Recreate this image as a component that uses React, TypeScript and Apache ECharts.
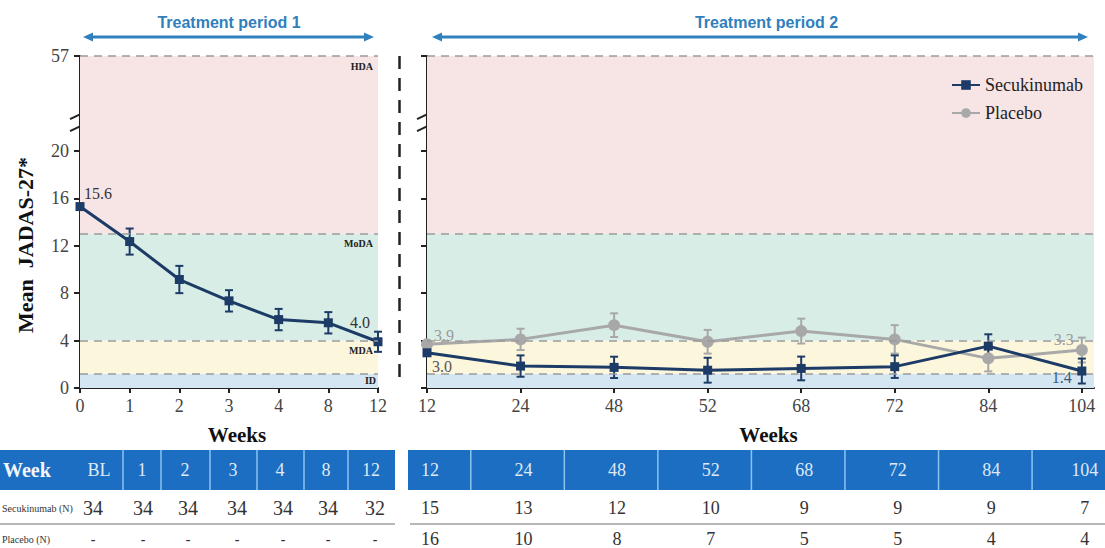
import React, { useEffect, useRef } from 'react';
import * as echarts from 'echarts';

// ---------- data ----------
const leftWeeks = ['0', '1', '2', '3', '4', '8', '12'];
const rightWeeks = ['12', '24', '48', '52', '68', '72', '84', '104'];

const secLeftMean = [15.3, 12.35, 9.15, 7.35, 5.77, 5.5, 3.9];
const secLeftErr = [0, 1.1, 1.15, 0.9, 0.9, 0.9, 0.85];

const secRightMean = [2.97, 1.85, 1.74, 1.5, 1.65, 1.8, 3.53, 1.43];
const secRightErr = [0, 0.9, 0.9, 1.05, 1.0, 0.95, 1.0, 1.05];

const pboRightMean = [3.7, 4.1, 5.3, 3.9, 4.8, 4.1, 2.5, 3.2];
const pboRightErr = [0, 0.9, 1.0, 1.0, 1.05, 1.2, 1.1, 1.05];

const yTickValues = [0, 4, 8, 12, 16, 20, 28];
const yTopValue = 28;
const yTopLabel = '57';
const yBreakValue = 22.6;

const bandEdges = [0, 1.2, 4, 13, 28];
const bandNames = ['ID', 'MDA', 'MoDA', 'HDA'];
const bandColors = ['#d5e6f3', '#fcf6dc', '#d8ede6', '#f7e4e4'];
const dashLevels = [1.2, 4, 13, 28];

const tableLeftHeader = ['BL', '1', '2', '3', '4', '8', '12'];
const tableLeftSec = ['34', '34', '34', '34', '34', '34', '32'];
const tableLeftPbo = ['-', '-', '-', '-', '-', '-', '-'];
const tableRightHeader = ['12', '24', '48', '52', '68', '72', '84', '104'];
const tableRightSec = ['15', '13', '12', '10', '9', '9', '9', '7'];
const tableRightPbo = ['16', '10', '8', '7', '5', '5', '4', '4'];

// ---------- styles ----------
const SERIF = '"Liberation Serif", "Times New Roman", serif';
const SANS = '"Liberation Sans", Arial, sans-serif';
const NAVY = '#1c3b66';
const GRAY = '#a8a8a8';
const BLUE = '#2f80bd';
const HEAD = '#1b6ec2';
const AXIS = '#222';

function bandAreas(withLabels: boolean) {
  return {
    silent: true,
    data: bandNames.map((n, i) => [
      {
        yAxis: bandEdges[i],
        itemStyle: { color: bandColors[i] },
        label: withLabels
          ? {
              show: true,
              formatter: n,
              position: 'insideTopRight',
              distance: i === 0 ? 2 : 5,
              color: '#222',
              fontFamily: SERIF,
              fontWeight: 'bold',
              fontSize: 10,
            }
          : { show: false },
      },
      { yAxis: bandEdges[i + 1] },
    ]),
  };
}

function bandLines() {
  return {
    silent: true,
    symbol: 'none',
    label: { show: false },
    lineStyle: { color: '#9a9a9a', width: 1.5, type: [8, 6] },
    data: dashLevels.map((v) => ({ yAxis: v })),
  };
}

function errSeries(xi: number, means: number[], errs: number[], color: string) {
  return {
    type: 'custom',
    xAxisIndex: xi,
    yAxisIndex: xi,
    silent: true,
    z: 3,
    renderItem: (params: any, api: any) => {
      const x = api.value(0);
      const p1 = api.coord([x, api.value(2)]);
      const p2 = api.coord([x, api.value(1)]);
      const w = 4;
      const style = { stroke: color, lineWidth: 2 };
      return {
        type: 'group',
        children: [
          { type: 'line', shape: { x1: p1[0], y1: p1[1], x2: p2[0], y2: p2[1] }, style },
          { type: 'line', shape: { x1: p1[0] - w, y1: p1[1], x2: p1[0] + w, y2: p1[1] }, style },
          { type: 'line', shape: { x1: p2[0] - w, y1: p2[1], x2: p2[0] + w, y2: p2[1] }, style },
        ],
      };
    },
    data: means
      .map((m, i) => [i, m - errs[i], m + errs[i], errs[i]])
      .filter((d) => d[3] > 0),
  };
}

function lbl(text: string, color: string, offset: number[]) {
  return {
    show: true,
    formatter: text,
    position: 'inside',
    offset,
    color,
    fontFamily: SERIF,
    fontSize: 16,
  };
}

export default function App() {
  const ref = useRef<HTMLDivElement>(null);

  useEffect(() => {
    if (!ref.current) return;
    const chart = echarts.init(ref.current, null, { renderer: 'svg' });

    const yAxisCommon = {
      type: 'value',
      min: 0,
      max: yTopValue,
      interval: 4,
      splitLine: { show: false },
      axisLine: { show: true, lineStyle: { color: AXIS, width: 2 } },
      axisTick: { show: true, customValues: yTickValues, length: 6, lineStyle: { color: AXIS, width: 2 } },
    };

    const xLabelStyle = { color: '#444', fontFamily: SERIF, fontSize: 18, margin: 9 };
    const xNameStyle = {
      color: '#111',
      fontFamily: SERIF,
      fontWeight: 'bold',
      fontSize: 21,
      padding: [0, 0, 0, 16],
    };

    const option: any = {
      animation: false,
      backgroundColor: '#fff',
      grid: [
        { left: 80, top: 56, width: 298, height: 332 },
        { left: 427, top: 56, width: 667, height: 332 },
      ],
      legend: {
        data: ['Secukinumab', 'Placebo'],
        orient: 'vertical',
        left: 946,
        top: 71,
        itemWidth: 28,
        itemHeight: 12,
        itemGap: 10,
        textStyle: { fontFamily: SERIF, fontSize: 18, color: '#222' },
      },
      xAxis: [
        {
          type: 'category',
          gridIndex: 0,
          data: leftWeeks,
          boundaryGap: false,
          axisLine: { lineStyle: { color: AXIS, width: 2 } },
          axisTick: { alignWithLabel: true, length: 5, lineStyle: { color: AXIS, width: 2 } },
          axisLabel: xLabelStyle,
          name: 'Weeks',
          nameLocation: 'middle',
          nameGap: 36,
          nameTextStyle: xNameStyle,
        },
        {
          type: 'value',
          gridIndex: 1,
          min: 0,
          max: 7.13,
          interval: 1,
          splitLine: { show: false },
          axisLine: { lineStyle: { color: AXIS, width: 2 } },
          axisTick: { customValues: [0, 1, 2, 3, 4, 5, 6, 7], length: 5, lineStyle: { color: AXIS, width: 2 } },
          axisLabel: {
            ...xLabelStyle,
            customValues: [0, 1, 2, 3, 4, 5, 6, 7],
            formatter: (v: number) => rightWeeks[Math.round(v)] ?? '',
          },
          name: 'Weeks',
          nameLocation: 'middle',
          nameGap: 36,
          nameTextStyle: xNameStyle,
        },
      ],
      yAxis: [
        {
          ...yAxisCommon,
          gridIndex: 0,
          axisLabel: {
            customValues: yTickValues,
            formatter: (v: number) => (v === yTopValue ? yTopLabel : String(v)),
            color: '#444',
            fontFamily: SERIF,
            fontSize: 18,
            margin: 11,
          },
        },
        {
          ...yAxisCommon,
          gridIndex: 1,
          axisLabel: { show: false, customValues: yTickValues },
        },
      ],
      series: [
        {
          name: 'Secukinumab',
          type: 'line',
          xAxisIndex: 0,
          yAxisIndex: 0,
          z: 4,
          symbol: 'rect',
          symbolSize: 9,
          color: NAVY,
          lineStyle: { color: NAVY, width: 3 },
          itemStyle: { color: NAVY },
          data: secLeftMean.map((v, i) => {
            if (i === 0) return { value: v, label: lbl('15.6', '#333', [18, -13]) };
            if (i === secLeftMean.length - 1) return { value: v, label: lbl('4.0', '#333', [-18, -19]) };
            return v;
          }),
          markArea: bandAreas(true),
          markLine: bandLines(),
        },
        errSeries(0, secLeftMean, secLeftErr, NAVY),
        {
          name: 'Placebo',
          type: 'line',
          xAxisIndex: 1,
          yAxisIndex: 1,
          z: 4,
          symbol: 'circle',
          symbolSize: 12,
          color: GRAY,
          lineStyle: { color: GRAY, width: 3 },
          itemStyle: { color: GRAY },
          data: pboRightMean.map((v, i) => {
            if (i === 0) return { value: [i, v], label: lbl('3.9', '#9a9a9a', [17, -9]) };
            if (i === pboRightMean.length - 1) return { value: [i, v], label: lbl('3.3', '#9a9a9a', [-18, -11]) };
            return [i, v];
          }),
          markArea: bandAreas(false),
          markLine: bandLines(),
        },
        errSeries(1, pboRightMean, pboRightErr, GRAY),
        {
          name: 'Secukinumab',
          type: 'line',
          xAxisIndex: 1,
          yAxisIndex: 1,
          z: 5,
          symbol: 'rect',
          symbolSize: 9,
          color: NAVY,
          lineStyle: { color: NAVY, width: 3 },
          itemStyle: { color: NAVY },
          data: secRightMean.map((v, i) => {
            if (i === 0) return { value: [i, v], label: lbl('3.0', '#555', [15, 14]) };
            if (i === secRightMean.length - 1) return { value: [i, v], label: lbl('1.4', '#3b5a80', [-20, 6]) };
            return [i, v];
          }),
        },
        errSeries(1, secRightMean, secRightErr, NAVY),
      ],
    };

    chart.setOption(option);

    // ---------- decorations computed from the axes ----------
    const L0 = chart.convertToPixel({ gridIndex: 0 }, [0, 0]) as number[];
    const L1 = chart.convertToPixel({ gridIndex: 0 }, [leftWeeks.length - 1, yTopValue]) as number[];
    const R0 = chart.convertToPixel({ gridIndex: 1 }, [0, 0]) as number[];
    const Rend = chart.convertToPixel({ gridIndex: 1 }, [7.13, yTopValue]) as number[];
    const rightX = tableRightHeader.map((_, i) => (chart.convertToPixel({ gridIndex: 1 }, [i, 0]) as number[])[0]);
    const breakY = (chart.convertToPixel({ gridIndex: 0 }, [0, yBreakValue]) as number[])[1];

    const g: any[] = [];
    const text = (x: number, y: number, t: string, font: string, fill: string, align = 'center') => ({
      type: 'text',
      x,
      y,
      style: { text: t, font, fill, align, verticalAlign: 'middle' },
    });

    // y-axis title
    g.push({
      type: 'text',
      x: 25,
      y: 245,
      rotation: Math.PI / 2,
      style: {
        text: 'Mean  JADAS-27*',
        font: `bold 22px ${SERIF}`,
        fill: '#111',
        align: 'center',
        verticalAlign: 'middle',
      },
    });

    // treatment period arrows
    const arrow = (x1: number, x2: number, y: number) => [
      { type: 'line', shape: { x1: x1 + 6, y1: y, x2: x2 - 6, y2: y }, style: { stroke: BLUE, lineWidth: 3 } },
      { type: 'polygon', shape: { points: [[x1, y], [x1 + 10, y - 4.5], [x1 + 10, y + 4.5]] }, style: { fill: BLUE } },
      { type: 'polygon', shape: { points: [[x2, y], [x2 - 10, y - 4.5], [x2 - 10, y + 4.5]] }, style: { fill: BLUE } },
    ];
    g.push(...arrow(L0[0] + 3, L1[0] - 4, 37));
    g.push(...arrow(R0[0] + 5, Rend[0] - 6, 37));
    g.push(text((L0[0] + L1[0]) / 2, 22, 'Treatment period 1', `bold 16px ${SANS}`, BLUE));
    g.push(text((R0[0] + Rend[0]) / 2 + 6, 22, 'Treatment period 2', `bold 16px ${SANS}`, BLUE));

    // axis break marks
    [L0[0], R0[0]].forEach((ax) => {
      g.push({ type: 'rect', shape: { x: ax - 2, y: breakY - 4, width: 4, height: 8 }, style: { fill: '#fff' } });
      g.push({ type: 'line', shape: { x1: ax - 10, y1: breakY - 1, x2: ax + 11, y2: breakY - 11 }, style: { stroke: AXIS, lineWidth: 2 } });
      g.push({ type: 'line', shape: { x1: ax - 10, y1: breakY + 11, x2: ax + 11, y2: breakY + 1 }, style: { stroke: AXIS, lineWidth: 2 } });
    });

    // vertical dashed separator
    const sepX = (L1[0] + R0[0]) / 2 - 3;
    g.push({
      type: 'line',
      shape: { x1: sepX, y1: L1[1], x2: sepX, y2: L0[1] - 4 },
      style: { stroke: AXIS, lineWidth: 2.5, lineDash: [13, 9] },
    });

    // ---------- tables ----------
    const hy = 450;
    const hh = 40;
    const row1 = 508;
    const row2 = 539;
    const leftTableRight = 395;
    const rightTableLeft = 408;
    const leftBounds = [123, 161, 210, 257, 304, 348];
    const leftHeadX = [99, 142, 185, 233, 280, 326, 371];
    const leftValX = [93, 143, 188, 237, 283, 328, 375];

    g.push({ type: 'rect', shape: { x: 0, y: hy, width: leftTableRight, height: hh }, style: { fill: HEAD } });
    g.push({ type: 'rect', shape: { x: rightTableLeft, y: hy, width: 1105 - rightTableLeft, height: hh }, style: { fill: HEAD } });
    leftBounds.forEach((bx) =>
      g.push({ type: 'line', shape: { x1: bx, y1: hy, x2: bx, y2: hy + hh }, style: { stroke: '#8cc4ef', lineWidth: 1.5 } })
    );
    const rightBounds = rightX.slice(1).map((x, i) => (x + rightX[i]) / 2 - 3);
    rightBounds.forEach((bx) =>
      g.push({ type: 'line', shape: { x1: bx, y1: hy, x2: bx, y2: hy + hh }, style: { stroke: '#8cc4ef', lineWidth: 1.5 } })
    );

    g.push(text(3, hy + hh / 2, 'Week', `bold 20px ${SERIF}`, '#f2f6fb', 'left'));
    tableLeftHeader.forEach((t, i) => g.push(text(leftHeadX[i], hy + hh / 2, t, `18px ${SERIF}`, '#dfe9f6')));
    tableRightHeader.forEach((t, i) => g.push(text(rightX[i] + 3, hy + hh / 2, t, `18px ${SERIF}`, '#dfe9f6')));

    g.push(text(2, row1, 'Secukinumab (N)', `10px ${SERIF}`, '#333', 'left'));
    g.push(text(2, row2, 'Placebo (N)', `10px ${SERIF}`, '#333', 'left'));
    tableLeftSec.forEach((t, i) => g.push(text(leftValX[i], row1, t, `20px ${SERIF}`, '#333')));
    tableLeftPbo.forEach((t, i) => g.push(text(leftValX[i], row2, t, `bold 14px ${SERIF}`, '#333')));
    tableRightSec.forEach((t, i) => g.push(text(rightX[i] + 3, row1, t, `18px ${SERIF}`, '#333')));
    tableRightPbo.forEach((t, i) => g.push(text(rightX[i] + 3, row2, t, `18px ${SERIF}`, '#333')));

    g.push({ type: 'line', shape: { x1: 0, y1: 524, x2: leftTableRight, y2: 524 }, style: { stroke: '#b8b8b8', lineWidth: 2 } });
    g.push({ type: 'line', shape: { x1: rightTableLeft + 2, y1: 524, x2: 1105, y2: 524 }, style: { stroke: '#b8b8b8', lineWidth: 2 } });

    chart.setOption({ graphic: g });

    return () => chart.dispose();
  }, []);

  return (
    <div
      ref={ref}
      style={{ position: 'fixed', left: 0, top: 0, width: 1105, height: 548, background: '#fff' }}
    />
  );
}
